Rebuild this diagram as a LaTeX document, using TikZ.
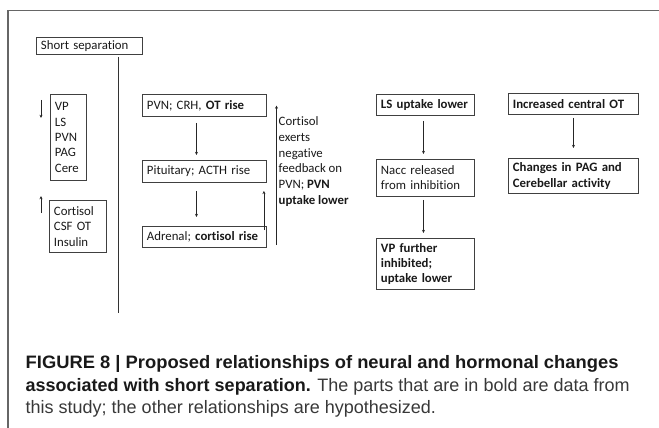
\documentclass[tikz,border=0pt]{standalone}
\usepackage{fontspec}
\setmainfont{Carlito}[Ligatures=NoCommon]
\newfontfamily\capfont{Liberation Sans}
\usetikzlibrary{arrows.meta,calc}
\tikzset{
  bx/.style={draw=black!75, line width=0.9pt, anchor=north west, inner xsep=4.5pt, inner ysep=0pt,
    align=left, font=\fontsize{12.8}{15.3}\selectfont, text=black!90},
  arr/.style={draw=black!85, line width=0.7pt, -{Stealth[length=3.2pt,width=3pt]}},
  outframe/.style={draw=black!60, line width=1.1pt},
  seplin/.style={draw=black!80, line width=1pt},
  captext/.style={anchor=base west, inner sep=0pt, font=\capfont\fontsize{18}{24}\selectfont},
  fbtext/.style={anchor=north west, inner sep=0pt, align=left, font=\fontsize{12.8}{15.8}\selectfont, text=black!90}
}
\begin{document}
\begin{tikzpicture}[x=1pt,y=-1pt]
\useasboundingbox (0,0) rectangle (659,428);
% outer frame (top and left)
\coordinate (ftl) at (8,10.5);
\coordinate (ftr) at (659,10.5);
\coordinate (fbl) at (8,428);
\draw[outframe] (ftr) -- (ftl) -- (fbl);

% left column
\node[bx, text width=97pt, minimum height=17pt] (ss) at (36,37) {Short separation};
\coordinate (vtop) at (118,57);
\coordinate (vbot) at (118,313);
\draw[seplin] (vtop) -- (vbot);

\node[bx, text width=27pt, minimum height=86pt] (vp) at (50,94) {VP\\LS\\PVN\\PAG\\Cere};
\coordinate (dnA) at (41,100);
\coordinate (dnB) at (41,118);
\draw[arr] (dnA) -- (dnB);

\node[bx, text width=48pt, minimum height=52pt] (cort) at (49,200) {Cortisol\\CSF OT\\Insulin};
\coordinate (upA) at (41,213);
\coordinate (upB) at (41,196);
\draw[arr] (upA) -- (upB);

% HPA column
\node[bx, text width=115pt, minimum height=22pt] (pvn) at (142,94) {PVN; CRH, \textbf{OT rise}};
\node[bx, text width=115pt, minimum height=22pt] (pit) at (142,160) {Pituitary; ACTH rise};
\node[bx, text width=115pt, minimum height=21pt] (adr) at (142,226) {Adrenal; \textbf{cortisol rise}};
\draw[arr] ($(pvn.south)+(-8,6)$) -- ($(pit.north)+(-8,-5)$);
\draw[arr] ($(pit.south)+(-8,8)$) -- ($(adr.north)+(-8,-9)$);
\draw[arr] ($(adr.north east)+(-3,4)$) -- ($(pit.south east)+(-3,8)$);
\coordinate (fbA) at (276.5,245);
\coordinate (fbB) at (276.5,105.5);
\draw[arr] (fbA) -- (fbB);
\node[fbtext] (fbt) at (278.5,116.5) {Cortisol\\exerts\\negative\\feedback on\\PVN; \textbf{PVN}\\\textbf{uptake lower}};

% LS column
\node[bx, text width=89pt, minimum height=21pt] (ls) at (376,94) {\textbf{LS uptake lower}};
\node[bx, text width=89pt, minimum height=37pt] (nacc) at (376,159) {Nacc released\\from inhibition};
\node[bx, text width=89pt, minimum height=51pt] (vpf) at (376,238) {\textbf{VP further}\\\textbf{inhibited;}\\\textbf{uptake lower}};
\draw[arr] ($(ls.south)+(-2,5)$) -- ($(nacc.north)+(-2,-5)$);
\draw[arr] ($(nacc.south)+(-2,3)$) -- ($(vpf.north)+(-2,-5)$);

% OT column
\node[bx, text width=121pt, minimum height=21pt] (inc) at (508,93) {\textbf{Increased central OT}};
\node[bx, text width=121pt, minimum height=35pt] (chg) at (508,158) {\textbf{Changes in PAG and}\\\textbf{Cerebellar activity}};
\draw[arr] ($(inc.south)+(0,3)$) -- ($(chg.north)+(0,-10)$);

% caption
\node[captext, text=black!90] (c1) at (25.5,368.5) {\scalebox{1.02}[1]{\bfseries FIGURE 8 | Proposed relationships of neural and hormonal changes}};
\node[captext, text=black!78] (c2) at (25.5,391) {\textbf{\color{black!90}associated with short separation.} The parts that are in bold are data from};
\node[captext, text=black!78] (c3) at (25.5,413.5) {this study; the other relationships are hypothesized.};
\end{tikzpicture}
\end{document}
